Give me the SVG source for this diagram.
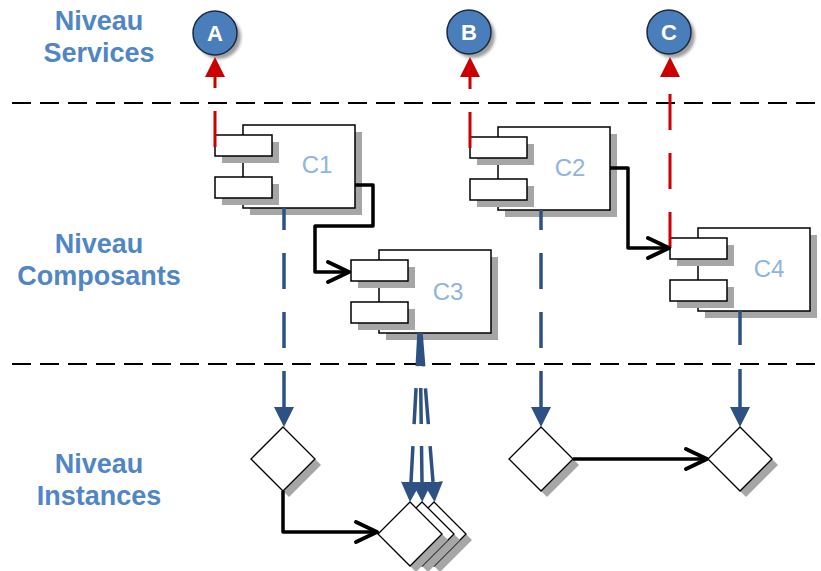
<svg xmlns="http://www.w3.org/2000/svg" width="821" height="571" viewBox="0 0 821 571">
<defs>
<style>
.lvl{font-family:"Liberation Sans",Arial,sans-serif;font-weight:bold;font-size:27px;fill:#5086C4;text-anchor:middle}
.lbl{font-family:"Liberation Sans",Arial,sans-serif;font-size:24px;fill:#8DB4E2;text-anchor:middle}
.cl{font-family:"Liberation Sans",Arial,sans-serif;font-weight:bold;font-size:22px;fill:#fff;text-anchor:middle}
.sep{stroke:#000;stroke-width:2;stroke-dasharray:19 9;fill:none}
.box{fill:#fff;stroke:#000;stroke-width:1.5}
.sh{fill:#A6A6A6;stroke:none}
.dia{fill:#fff;stroke:#000;stroke-width:1.3}
.blue{stroke:#2E5184;stroke-width:3.5;fill:none;stroke-dasharray:36 23;marker-start:url(#ba)}
.red{stroke:#CC0000;stroke-width:3;fill:none;stroke-dasharray:36 23;marker-end:url(#ra)}
.blk{stroke:#000;stroke-width:3.5;fill:none;stroke-linejoin:round;marker-end:url(#va)}
.circ{fill:#4A7EBB;stroke:#1A2A40;stroke-width:1.5}
</style>
<filter id="blur" x="-30%" y="-30%" width="160%" height="160%"><feGaussianBlur stdDeviation="1.5"/></filter>
<marker id="ba" viewBox="0 -10 20 20" refX="0" refY="0" markerWidth="20" markerHeight="20" markerUnits="userSpaceOnUse" orient="auto-start-reverse"><path d="M0,-10 L20,0 L0,10 z" fill="#2E5184"/></marker>
<marker id="ra" viewBox="0 -10 20 20" refX="0" refY="0" markerWidth="20" markerHeight="20" markerUnits="userSpaceOnUse" orient="auto"><path d="M0,-10 L20,0 L0,10 z" fill="#CC0000"/></marker>
<marker id="va" viewBox="-26 -14 30 28" refX="0" refY="0" markerWidth="30" markerHeight="28" markerUnits="userSpaceOnUse" orient="auto"><path d="M-21,-10 L0,0 L-21,10" fill="none" stroke="#000" stroke-width="4" stroke-linecap="round" stroke-linejoin="round"/></marker>
</defs>
<rect width="821" height="571" fill="#fff"/>

<g id="levels">
<text class="lvl" x="99" y="30">Niveau</text>
<text class="lvl" x="99" y="62">Services</text>
<text class="lvl" x="99" y="253">Niveau</text>
<text class="lvl" x="99" y="285">Composants</text>
<text class="lvl" x="99" y="473">Niveau</text>
<text class="lvl" x="99" y="505">Instances</text>
<line class="sep" x1="12" y1="103" x2="821" y2="103"/>
<line class="sep" x1="12" y1="364" x2="821" y2="364"/>
</g>

<g id="A">
<circle cx="219" cy="37" r="22" fill="#777" opacity="0.7" filter="url(#blur)"/>
<circle class="circ" cx="215" cy="33" r="22"/>
<text class="cl" x="215" y="41">A</text>
</g>
<g id="B">
<circle cx="473" cy="36" r="22" fill="#777" opacity="0.7" filter="url(#blur)"/>
<circle class="circ" cx="469" cy="32" r="22"/>
<text class="cl" x="469" y="40">B</text>
</g>
<g id="C">
<circle cx="673" cy="36" r="22" fill="#777" opacity="0.7" filter="url(#blur)"/>
<circle class="circ" cx="669" cy="32" r="22"/>
<text class="cl" x="669" y="40">C</text>
</g>

<g id="C1">
<rect class="sh" x="250" y="132" width="112" height="83"/>
<rect class="box" x="243" y="125" width="112" height="83"/>
<rect class="sh" x="222" y="142" width="57" height="21"/>
<rect class="sh" x="222" y="184" width="57" height="21"/>
<rect class="box" x="215" y="135" width="57" height="21"/>
<rect class="box" x="215" y="177" width="57" height="21"/>
<text class="lbl" x="317" y="173">C1</text>
</g>
<g id="C2">
<rect class="sh" x="505" y="134" width="112" height="83"/>
<rect class="box" x="498" y="127" width="112" height="83"/>
<rect class="sh" x="477" y="144" width="57" height="21"/>
<rect class="sh" x="477" y="186" width="57" height="21"/>
<rect class="box" x="470" y="137" width="57" height="21"/>
<rect class="box" x="470" y="179" width="57" height="21"/>
<text class="lbl" x="570" y="176">C2</text>
</g>
<g id="C3">
<rect class="sh" x="386" y="257" width="112" height="83"/>
<rect class="box" x="379" y="250" width="112" height="83"/>
<rect class="sh" x="358" y="267" width="57" height="21"/>
<rect class="sh" x="358" y="309" width="57" height="21"/>
<rect class="box" x="351" y="260" width="57" height="21"/>
<rect class="box" x="351" y="302" width="57" height="21"/>
<text class="lbl" x="448" y="300">C3</text>
</g>
<g id="C4">
<rect class="sh" x="705" y="235" width="112" height="83"/>
<rect class="box" x="698" y="228" width="112" height="83"/>
<rect class="sh" x="677" y="245" width="57" height="21"/>
<rect class="sh" x="677" y="287" width="57" height="21"/>
<rect class="box" x="670" y="238" width="57" height="21"/>
<rect class="box" x="670" y="280" width="57" height="21"/>
<text class="lbl" x="769" y="277">C4</text>
</g>

<g id="I1">
<path fill="#A6A6A6" d="M289,433 L321,465 L289,497 L257,465 z"/>
<path class="dia" d="M283,427 L315,459 L283,491 L251,459 z"/>
</g>
<g id="I2">
<path fill="#A6A6A6" d="M547,433 L579,465 L547,497 L515,465 z"/>
<path class="dia" d="M541,427 L573,459 L541,491 L509,459 z"/>
</g>
<g id="I4">
<path fill="#A6A6A6" d="M746,433 L778,465 L746,497 L714,465 z"/>
<path class="dia" d="M740,427 L772,459 L740,491 L708,459 z"/>
</g>
<g id="I3">
<path fill="#A6A6A6" d="M440,508 L472,540 L440,572 L408,540 z"/>
<path class="dia" d="M434,502 L466,534 L434,566 L402,534 z"/>
<path fill="#A6A6A6" d="M428,508 L460,540 L428,572 L396,540 z"/>
<path class="dia" d="M422,502 L454,534 L422,566 L390,534 z"/>
<path fill="#A6A6A6" d="M416,508 L448,540 L416,572 L384,540 z"/>
<path class="dia" d="M410,502 L442,534 L410,566 L378,534 z"/>
</g>

<g id="connectors">
<path class="red" d="M215,147 V77"/>
<path class="red" d="M470,148 V77"/>
<path class="red" d="M670,248 V77"/>
<path class="blk" d="M355,185 H373 V226 H315 V272 H349"/>
<path class="blk" d="M610,168 H628 V248 H669"/>
<path class="blk" d="M283,491 V532 H377"/>
<path class="blk" d="M573,459 H707"/>
<path class="blue" d="M284,407 V208"/>
<path class="blue" d="M541,407 V210"/>
<path class="blue" style="stroke-dasharray:38 24" d="M740,407 V311"/>
<path class="blue" style="stroke-dasharray:36 22" d="M411,482 L419,333"/>
<path class="blue" style="stroke-dasharray:36 22" d="M422,482 L420,333"/>
<path class="blue" style="stroke-dasharray:36 22" d="M433,482 L421,333"/>
</g>
</svg>
